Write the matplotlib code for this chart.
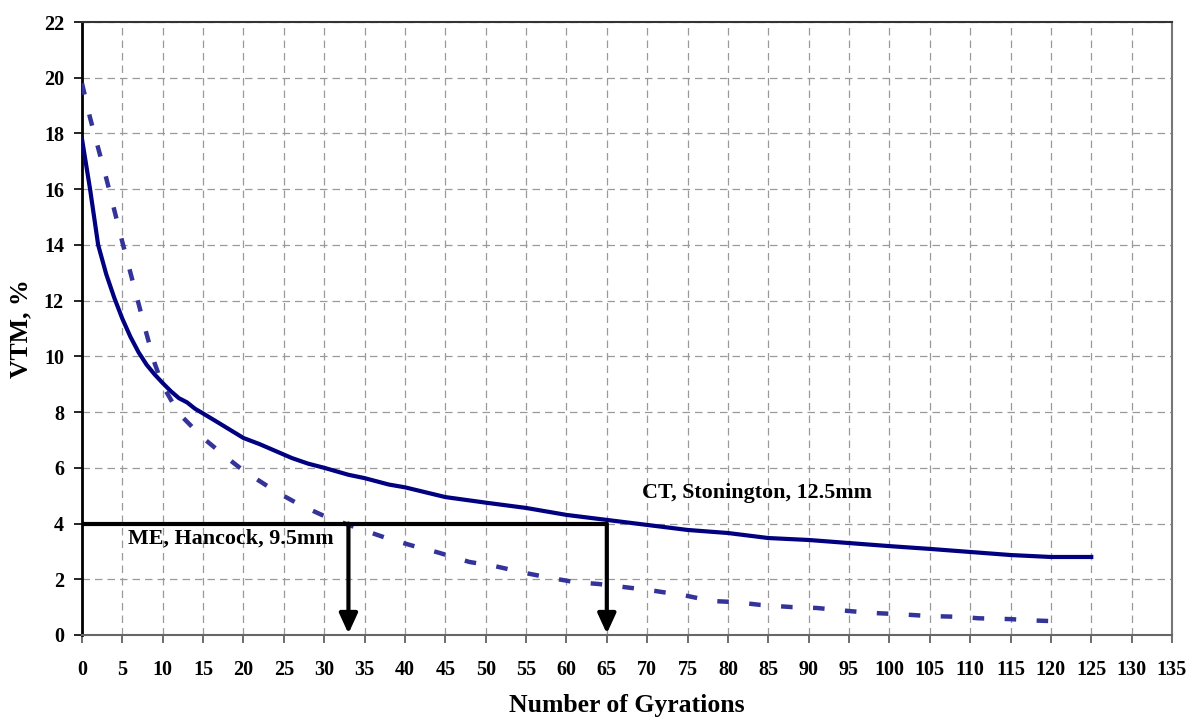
import matplotlib
matplotlib.use("Agg")
import matplotlib.pyplot as plt

# CT, Stonington, 12.5mm (solid)
ct_gyr = [0, 1, 2, 3, 4, 5, 6, 7, 8, 9, 10, 11, 12, 13, 14, 15, 17, 20, 22, 24, 26,
          28, 30, 33, 35, 38, 40, 45, 50, 55, 60, 65, 70, 75, 80, 85, 90, 95, 100,
          105, 110, 115, 120, 125]
ct_vtm = [17.8, 16.0, 14.0, 12.95, 12.1, 11.35, 10.7, 10.15, 9.7, 9.35, 9.04, 8.75,
          8.5, 8.35, 8.12, 7.95, 7.6, 7.07, 6.85, 6.6, 6.35, 6.15, 6.0, 5.75, 5.63, 5.4,
          5.3, 4.95, 4.75, 4.56, 4.31, 4.13, 3.95, 3.77, 3.66, 3.48, 3.41, 3.3, 3.19,
          3.09, 2.98, 2.87, 2.8, 2.8]

# ME, Hancock, 9.5mm (dashed)
me_gyr = [0, 1, 2, 3, 4, 5, 6, 7, 8, 9, 10, 12, 15, 18, 20, 24, 27, 30, 34, 38, 41,
          44, 48, 51, 55, 58, 61, 64, 68, 71, 75, 78, 81, 84, 88, 91, 95, 98, 101,
          105, 109, 111, 115, 118, 120]
me_vtm = [19.8, 18.56, 17.48, 16.4, 15.25, 14.1, 13.0, 11.9, 10.8, 9.75, 8.95, 7.95,
          7.07, 6.35, 5.9, 5.15, 4.67, 4.27, 3.85, 3.45, 3.2, 2.97, 2.62, 2.48, 2.22,
          2.05, 1.9, 1.83, 1.69, 1.58, 1.4, 1.22, 1.18, 1.08, 1.0, 0.97, 0.86, 0.79,
          0.75, 0.68, 0.65, 0.6, 0.57, 0.52, 0.5]

x_ticks = list(range(0, 136, 5))
y_ticks = list(range(0, 23, 2))
target_vtm = 4
me_target_gyr = 33
ct_target_gyr = 65

plt.rcParams['font.family'] = ['Liberation Serif', 'DejaVu Serif']
plt.rcParams['font.weight'] = 'bold'

fig = plt.figure(figsize=(11.88, 7.2), dpi=100)
ax = fig.add_axes([82/1188, 1-635/720, (1172-82)/1188, (635-22)/720])

ax.set_xlim(0, 135)
ax.set_ylim(0, 22)
ax.set_xticks(x_ticks)
ax.set_yticks(y_ticks)
ax.grid(True, color='#9a9a9a', linestyle=(0, (6, 4)), linewidth=0.9)
ax.set_axisbelow(True)

ax.plot(ct_gyr, ct_vtm, color='#000080', linewidth=3.0, solid_joinstyle='round', zorder=3)
ax.plot(me_gyr, me_vtm, color='#333399', linewidth=3.2, linestyle=(0, (2.6, 4.6)),
        dash_capstyle='butt', zorder=3)

# horizontal line at target VTM
ax.plot([0, ct_target_gyr], [target_vtm, target_vtm], color='black', linewidth=3.0,
        solid_capstyle='butt', zorder=4)
for g in (me_target_gyr, ct_target_gyr):
    ax.annotate('', xy=(g, 0.05), xytext=(g, target_vtm),
                arrowprops=dict(arrowstyle='-|>,head_length=1.2,head_width=0.55',
                                color='black', lw=3.0, shrinkA=0, shrinkB=0),
                zorder=5)

ax.text(5.7, 3.45, 'ME, Hancock, 9.5mm', fontsize=15.8, fontweight='bold',
        va='center', ha='left')
ax.text(69.3, 5.1, 'CT, Stonington, 12.5mm', fontsize=15.8, fontweight='bold',
        va='center', ha='left')

ax.set_xlabel('Number of Gyrations', fontsize=18.5, fontweight='bold', labelpad=10)
ax.set_ylabel('VTM, %', fontsize=18.5, fontweight='bold', labelpad=8)
ax.tick_params(axis='both', labelsize=14.5, length=6, width=1.2)
ax.tick_params(axis='x', color='#555555', pad=12)
ax.tick_params(axis='y', color='black', pad=7)

ax.spines['left'].set_color('black')
ax.spines['left'].set_linewidth(2.0)
ax.spines['bottom'].set_color('#666666')
ax.spines['bottom'].set_linewidth(1.5)
ax.spines['top'].set_color('#333333')
ax.spines['top'].set_linewidth(1.5)
ax.spines['right'].set_color('#777777')
ax.spines['right'].set_linewidth(1.5)

fig.savefig('out.png', dpi=100)
